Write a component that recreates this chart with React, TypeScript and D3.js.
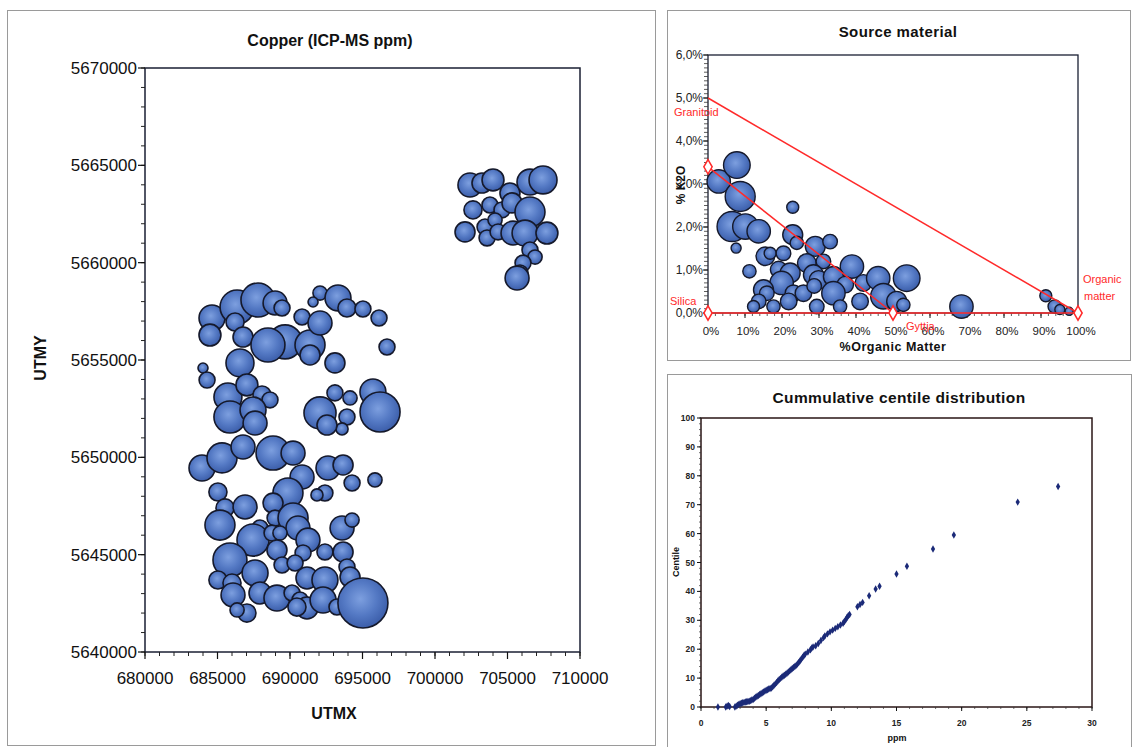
import React from 'react';
import * as d3 from 'd3';

// ---------- Copper bubble map ----------
const utmx = [
  702410, 703240, 704000, 705170, 706550, 707450, 702620, 703790, 704620, 705310, 706550, 702070,
  703450, 704140, 703590, 704350, 705380, 706210, 707720, 706550, 706900, 706070, 705860, 705660,
  684620, 684480, 686350, 687790, 688970, 689450, 686210, 686760, 689660, 688480, 691380, 690830,
  692070, 691380, 686550, 692070, 691590, 693310, 693930, 695030, 696140, 696690, 693100, 684000,
  684280, 685720, 687030, 688070, 688620, 685860, 687450, 687590, 692070, 693100, 694140, 693930,
  693590, 695720, 696210, 692550,
  683930, 685310, 686760, 688830, 690210, 690830, 692620, 693660, 694280, 695860, 685030, 685520,
  686900, 685170, 689860, 692410, 691860, 688830, 688970, 690210, 690550, 691240, 687930, 687450,
  688760, 689310, 693590, 694280, 685860, 689100, 690900, 692410, 693660, 689450, 690350, 687590,
  691170, 692410, 693930, 694140, 685030, 686000, 686070, 687930, 689100, 690140, 690690, 691170,
  690480, 692280, 693240, 695030, 687030, 686350,
];
const utmy = [
  5663990, 5664090, 5664250, 5663580, 5664140, 5664250, 5662710, 5662960, 5662710, 5663070, 5662600, 5661580,
  5661830, 5662190, 5661270, 5661580, 5661520, 5661520, 5661520, 5660650, 5660290, 5659980, 5659470, 5659210,
  5657160, 5656280, 5657720, 5658080, 5657930, 5657670, 5656950, 5656180, 5655930, 5655770, 5655770, 5657210,
  5656900, 5655260, 5654850, 5658440, 5657980, 5658190, 5657670, 5657620, 5657160, 5655670, 5654850, 5654590,
  5653970, 5653100, 5653720, 5653200, 5652950, 5652070, 5652430, 5651760, 5652280, 5653310, 5653050, 5652070,
  5651460, 5653360, 5652330, 5651660,
  5649450, 5649970, 5650530, 5650220, 5650220, 5648990, 5649450, 5649610, 5648680, 5648840, 5648220, 5647400,
  5647450, 5646520, 5648170, 5648170, 5648070, 5647650, 5646880, 5646880, 5646370, 5645750, 5646370, 5645750,
  5646110, 5646110, 5646370, 5646780, 5644730, 5645240, 5645090, 5645140, 5645140, 5644470, 5644570, 5644060,
  5643800, 5643700, 5644370, 5643850, 5643700, 5643540, 5642930, 5643030, 5642770, 5643030, 5642670, 5642260,
  5642310, 5642670, 5642310, 5642520, 5642000, 5642160,
];
const copper = [
  6.3, 4.4, 5.3, 4.4, 7.4, 8.6, 3.6, 2.8, 2.8, 4.4, 9.9, 4.4,
  2.8, 2.2, 2.8, 2.8, 6.3, 7.4, 5.3, 2.8, 2.2, 2.8, 2.8, 6.3,
  7.4, 5.3, 12.7, 12.7, 6.3, 2.8, 3.6, 4.4, 12.7, 12.7, 9.9, 2.8,
  6.3, 4.4, 8.6, 2.2, 1.1, 7.4, 3.6, 2.8, 2.8, 2.8, 4.4, 1.1,
  2.8, 8.6, 5.3, 3.6, 2.8, 11.3, 7.4, 6.3, 11.3, 2.8, 2.2, 2.8,
  1.6, 7.4, 17.6, 4.4,
  7.4, 9.9, 6.3, 12.7, 6.3, 6.3, 6.3, 4.4, 2.8, 2.2, 3.6, 3.6,
  6.3, 9.9, 9.9, 2.8, 1.6, 4.4, 2.8, 9.9, 6.3, 6.3, 2.8, 11.3,
  2.8, 2.2, 6.3, 2.2, 12.7, 4.4, 2.8, 2.8, 4.4, 2.8, 2.8, 7.4,
  5.3, 7.4, 2.8, 4.4, 3.6, 3.6, 6.3, 5.3, 7.4, 2.8, 2.8, 5.3,
  3.6, 7.4, 2.8, 27.5, 3.6, 2.2,
];
const utmxTicks = [680000, 685000, 690000, 695000, 700000, 705000, 710000];
const utmyTicks = [5640000, 5645000, 5650000, 5655000, 5660000, 5665000, 5670000];

// ---------- Source material ----------
const organicMatter = [
  2.9, 7.8, 8.7, 6.5, 10.1, 13.7, 7.6, 22.9, 11.2, 22.9, 24.0, 15.5, 16.8, 20.4, 29.0, 33.0,
  26.7, 31.2, 38.9, 19.1, 22.2, 19.9, 28.5, 29.9, 33.9, 37.1, 42.0, 46.0, 53.7, 47.4, 15.0, 15.9,
  13.7, 23.1, 21.8, 25.8, 28.7, 33.9, 41.1, 51.0, 52.8, 17.7, 12.3, 29.4, 35.7, 68.5, 91.3, 93.7,
  95.1, 97.6,
];
const k2o = [
  3.06, 3.44, 2.71, 2.01, 2.01, 1.9, 1.51, 2.46, 0.97, 1.82, 1.63, 1.32, 1.39, 1.39, 1.55, 1.66,
  1.16, 1.2, 1.08, 1.01, 0.93, 0.7, 0.89, 0.77, 0.85, 0.66, 0.7, 0.81, 0.81, 0.39, 0.54, 0.46,
  0.27, 0.46, 0.27, 0.46, 0.63, 0.46, 0.27, 0.27, 0.19, 0.15, 0.15, 0.15, 0.15, 0.15, 0.4, 0.15,
  0.08, 0.04,
];
const sourceCopper = [
  16.7, 21.7, 27.5, 27.5, 19.7, 16.7, 3.1, 4.4, 5.4, 12.2, 5.4, 10.6, 4.4, 6.5, 12.2, 6.5,
  10.6, 6.5, 16.7, 8.4, 12.2, 16.7, 12.2, 10.6, 12.2, 8.4, 8.4, 16.7, 21.7, 19.7, 12.2, 6.5,
  6.5, 8.4, 8.4, 8.4, 6.5, 16.7, 8.4, 12.2, 5.4, 5.4, 4.4, 6.5, 5.4, 16.7, 4.4, 5.4,
  3.1, 2.0,
];
const endMemberNames = ['Granitoid', 'Silica', 'Gyttja', 'Organic matter'];
const granitoidLine = [[0, 5.0], [100, 0]];
const gyttjaLine = [[0, 3.4], [50, 0]];
const baseLine = [[0, 0], [100, 0]];
const endMembers = [[0, 3.4], [0, 0], [50, 0], [100, 0]];
const omTicks = [0, 10, 20, 30, 40, 50, 60, 70, 80, 90, 100];
const k2oTicks = [0, 1, 2, 3, 4, 5, 6];

// ---------- Cumulative centile ----------
const ppm = [
  1.3, 1.9, 2.0, 2.1, 2.2, 2.6, 2.7, 2.8, 2.9, 3.0, 3.1, 3.2, 3.3, 3.4, 3.5, 3.6, 3.7, 3.8, 3.9, 4.0,
  4.1, 4.2, 4.3, 4.4, 4.5, 4.6, 4.7, 4.8, 4.9, 5.0, 5.1, 5.2, 5.3, 5.4, 5.5, 5.6, 5.7, 5.8, 5.9, 6.0,
  6.1, 6.2, 6.3, 6.4, 6.5, 6.6, 6.7, 6.8, 6.9, 7.0, 7.1, 7.2, 7.3, 7.4, 7.5, 7.6, 7.7, 7.8, 7.9, 8.0,
  8.2, 8.4, 8.5, 8.6, 8.8, 9.0, 9.2, 9.4, 9.5, 9.7, 9.9, 10.1, 10.3, 10.5, 10.7, 10.9, 11.0, 11.1, 11.2, 11.3,
  11.4, 12.0, 12.2, 12.4, 12.9, 13.4, 13.7, 15.0, 15.8, 17.8, 19.4, 24.3, 27.4,
];
const centile = [
  0, 0, 0.3, 0.5, 0.2, 0, 0.3, 0.6, 0.9, 1.1, 1.3, 1.5, 1.6, 1.7, 1.8, 1.9, 2.0, 2.2, 2.4, 2.6,
  3.0, 3.4, 3.7, 4.0, 4.3, 4.6, 4.9, 5.2, 5.5, 5.8, 6.0, 6.2, 6.4, 6.6, 7.0, 7.5, 8.0, 8.5, 9.0, 9.5,
  9.9, 10.3, 10.7, 11.0, 11.3, 11.7, 12.1, 12.5, 12.9, 13.3, 13.7, 14.0, 14.4, 14.9, 15.4, 16.0, 16.6, 17.2, 17.8, 18.3,
  19.0, 19.8, 20.4, 20.8, 21.2, 22.0, 23.0, 24.0, 24.6, 25.3, 26.0, 26.6, 27.2, 27.8, 28.4, 29.0, 29.6, 30.2, 31.0, 31.6,
  32.0, 34.7, 35.5, 36.2, 38.5, 40.8, 41.8, 46.0, 48.7, 54.7, 59.5, 70.9, 76.3,
];
const ppmTicks = [0, 5, 10, 15, 20, 25, 30];
const centileTicks = [0, 10, 20, 30, 40, 50, 60, 70, 80, 90, 100];

const FONT = 'Liberation Sans, Arial, Helvetica, sans-serif';

export default function App() {
  // main chart scales
  const mx = d3.scaleLinear().domain([680000, 710000]).range([145, 580]);
  const my = d3.scaleLinear().domain([5640000, 5670000]).range([652, 68]);
  const mr = d3.scaleSqrt().domain([0, 27.5]).range([0, 25]);
  const mxMinor = d3.range(680000, 710001, 1000);
  const myMinor = d3.range(5640000, 5670001, 1000);

  // source chart scales
  const sx = d3.scaleLinear().domain([0, 100]).range([708, 1078]);
  const sy = d3.scaleLinear().domain([0, 6]).range([313, 55]);
  const sr = d3.scaleSqrt().domain([0, 27.5]).range([0, 15]);
  const sLine = d3.line<number[]>().x((d) => sx(d[0])).y((d) => sy(d[1]));
  const sxMinor = d3.range(0, 101, 2);
  const syMinor = d3.range(0, 6.01, 0.1);

  // cumulative chart scales
  const cx = d3.scaleLinear().domain([0, 30]).range([701, 1092]);
  const cy = d3.scaleLinear().domain([0, 100]).range([707, 418]);
  const cxMinor = d3.range(0, 31, 1);
  const cyMinor = d3.range(0, 101, 2);
  const diamond = d3.symbol().type(d3.symbolDiamond);

  const fmtPct = (v: number) => v.toFixed(1).replace('.', ',') + '%';

  return (
    <svg
      width={1135}
      height={747}
      style={{ position: 'absolute', left: 0, top: 0, background: '#fff' }}
      fontFamily={FONT}
    >
      <defs>
        <radialGradient id="bub" cx="45%" cy="42%" r="60%">
          <stop offset="0%" stopColor="#7d9fdf" />
          <stop offset="55%" stopColor="#5479c4" />
          <stop offset="100%" stopColor="#3a5ca8" />
        </radialGradient>
      </defs>

      {/* ===== Left panel ===== */}
      <rect x={7.5} y={10.5} width={648} height={735} fill="#fff" stroke="#9a9a9a" strokeWidth={1} />
      <text x={330} y={46} textAnchor="middle" fontSize={16} fontWeight="bold" fill="#111">
        Copper (ICP-MS ppm)
      </text>
      {/* plot frame */}
      <rect x={145} y={68} width={435} height={584} fill="none" stroke="#1a1f33" strokeWidth={1.5} />
      {/* minor ticks */}
      {mxMinor.map((v) => (
        <line key={'mxm' + v} x1={mx(v)} x2={mx(v)} y1={652} y2={656} stroke="#222" strokeWidth={1} />
      ))}
      {myMinor.map((v) => (
        <line key={'mym' + v} x1={141} x2={145} y1={my(v)} y2={my(v)} stroke="#222" strokeWidth={1} />
      ))}
      {utmxTicks.map((v) => (
        <g key={'mx' + v}>
          <line x1={mx(v)} x2={mx(v)} y1={652} y2={659} stroke="#111" strokeWidth={1.2} />
          <text x={mx(v)} y={684} textAnchor="middle" fontSize={17} fill="#111">
            {v}
          </text>
        </g>
      ))}
      {utmyTicks.map((v) => (
        <g key={'my' + v}>
          <line x1={138} x2={145} y1={my(v)} y2={my(v)} stroke="#111" strokeWidth={1.2} />
          <text x={137} y={my(v) + 6} textAnchor="end" fontSize={17} fill="#111">
            {v}
          </text>
        </g>
      ))}
      <text x={334} y={719} textAnchor="middle" fontSize={16} fontWeight="bold" fill="#111">
        UTMX
      </text>
      <text
        transform="translate(46,358) rotate(-90)"
        textAnchor="middle"
        fontSize={16}
        fontWeight="bold"
        fill="#111"
      >
        UTMY
      </text>
      {utmx.map((v, i) => (
        <circle
          key={'b' + i}
          cx={mx(v)}
          cy={my(utmy[i])}
          r={mr(copper[i])}
          fill="url(#bub)"
          stroke="#15192b"
          strokeWidth={1.6}
        />
      ))}

      {/* ===== Source material ===== */}
      <rect x={667.5} y={10.5} width={463} height={350} fill="#fff" stroke="#9a9a9a" strokeWidth={1} />
      <text x={898} y={37} textAnchor="middle" fontSize={15} fontWeight="bold" fill="#111" letterSpacing={0.4}>
        Source material
      </text>
      <rect x={708} y={55} width={370} height={258} fill="none" stroke="#1a1f33" strokeWidth={1.3} />
      {sxMinor.map((v) => (
        <line key={'sxm' + v} x1={sx(v)} x2={sx(v)} y1={313} y2={316} stroke="#333" strokeWidth={0.8} />
      ))}
      {syMinor.map((v, i) => (
        <line key={'sym' + i} x1={704} x2={708} y1={sy(v)} y2={sy(v)} stroke="#333" strokeWidth={0.8} />
      ))}
      {omTicks.map((v) => (
        <g key={'sx' + v}>
          <line x1={sx(v)} x2={sx(v)} y1={313} y2={318} stroke="#111" />
          <text x={sx(v) + 3} y={335} textAnchor="middle" fontSize={11.5} fill="#222">
            {v + '%'}
          </text>
        </g>
      ))}
      {k2oTicks.map((v) => (
        <g key={'sy' + v}>
          <line x1={703} x2={708} y1={sy(v)} y2={sy(v)} stroke="#111" />
          <text x={703} y={sy(v) + 4} textAnchor="end" fontSize={12} fill="#222">
            {fmtPct(v)}
          </text>
        </g>
      ))}
      <text x={893} y={351} textAnchor="middle" fontSize={12.5} fontWeight="bold" fill="#111" letterSpacing={0.5}>
        %Organic Matter
      </text>
      <text
        transform="translate(685,185) rotate(-90)"
        textAnchor="middle"
        fontSize={12}
        fontWeight="bold"
        fill="#111"
      >
        % K2O
      </text>
      {organicMatter.map((v, i) => (
        <circle
          key={'s' + i}
          cx={sx(v)}
          cy={sy(k2o[i])}
          r={sr(sourceCopper[i])}
          fill="url(#bub)"
          stroke="#15192b"
          strokeWidth={1.4}
        />
      ))}
      <path d={sLine(granitoidLine as any) || ''} fill="none" stroke="#ff2a2a" strokeWidth={1.5} />
      <path d={sLine(gyttjaLine as any) || ''} fill="none" stroke="#ff2a2a" strokeWidth={1.5} />
      <path d={sLine(baseLine as any) || ''} fill="none" stroke="#ff2a2a" strokeWidth={1.5} />
      {endMembers.map((d, i) => (
        <path
          key={'em' + i}
          d={d3.symbol().type(d3.symbolDiamond).size(60)() || ''}
          transform={`translate(${sx(d[0])},${sy(d[1])})`}
          fill="#fff"
          stroke="#ff2a2a"
          strokeWidth={1.5}
        />
      ))}
      <text x={674} y={116} fontSize={11} fill="#ff2a2a">{endMemberNames[0]}</text>
      <text x={670} y={305} fontSize={11} fill="#ff2a2a">{endMemberNames[1]}</text>
      <text x={906} y={330} fontSize={11} fill="#ff2a2a">{endMemberNames[2]}</text>
      <text x={1083} y={283} fontSize={11} fill="#ff2a2a">Organic</text>
      <text x={1084} y={300} fontSize={11} fill="#ff2a2a">matter</text>

      {/* ===== Cumulative centile distribution ===== */}
      <rect x={667.5} y={374.5} width={464} height={380} fill="#fff" stroke="#9a9a9a" strokeWidth={1} />
      <text x={899} y={403} textAnchor="middle" fontSize={15.5} fontWeight="bold" fill="#111" letterSpacing={0.4}>
        Cummulative centile distribution
      </text>
      <rect x={701} y={418} width={391} height={289} fill="none" stroke="#2a1616" strokeWidth={1.5} />
      {cxMinor.map((v) => (
        <line key={'cxm' + v} x1={cx(v)} x2={cx(v)} y1={707} y2={709} stroke="#333" strokeWidth={0.7} />
      ))}
      {cyMinor.map((v) => (
        <line key={'cym' + v} x1={699} x2={701} y1={cy(v)} y2={cy(v)} stroke="#333" strokeWidth={0.7} />
      ))}
      {ppmTicks.map((v) => (
        <g key={'cx' + v}>
          <line x1={cx(v)} x2={cx(v)} y1={707} y2={711} stroke="#111" />
          <text x={cx(v)} y={726} textAnchor="middle" fontSize={8.5} fontWeight="bold" fill="#222">
            {v}
          </text>
        </g>
      ))}
      {centileTicks.map((v) => (
        <g key={'cy' + v}>
          <line x1={697} x2={701} y1={cy(v)} y2={cy(v)} stroke="#111" />
          <text x={695} y={cy(v) + 3} textAnchor="end" fontSize={8.5} fontWeight="bold" fill="#222">
            {v}
          </text>
        </g>
      ))}
      <text x={897} y={741} textAnchor="middle" fontSize={9} fontWeight="bold" fill="#111">
        ppm
      </text>
      <text
        transform="translate(679,562) rotate(-90)"
        textAnchor="middle"
        fontSize={9}
        fontWeight="bold"
        fill="#111"
      >
        Centile
      </text>
      {ppm.map((v, i) => (
        <path
          key={'c' + i}
          d={diamond.size(16)() || ''}
          transform={`translate(${cx(v)},${cy(centile[i])})`}
          fill="#1b2a78"
        />
      ))}
    </svg>
  );
}
